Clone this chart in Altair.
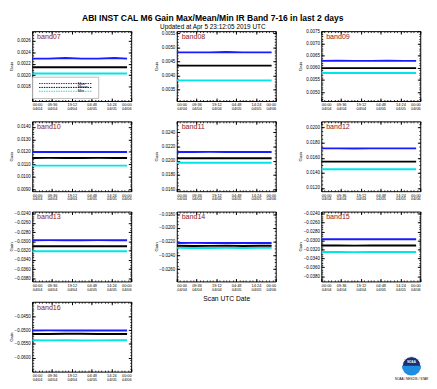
import altair as alt
import numpy as np
import pandas as pd

# ---- data ----
BANDS = ["band07", "band08", "band09", "band10", "band11",
         "band12", "band13", "band14", "band15", "band16"]

# minutes since 04/04 00:00 UTC
SCAN_MIN = [0, 480, 960, 1440, 1920, 2400, 2760]

MAX_SERIES = {
    "band07": [0.00229, 0.00229, 0.00230, 0.00229, 0.00229, 0.00230, 0.00229],
    "band08": [0.00482, 0.00482, 0.00482, 0.00483, 0.00482, 0.00482, 0.00482],
    "band09": [0.00629, 0.00630, 0.00629, 0.00629, 0.00630, 0.00629, 0.00629],
    "band10": [0.01198, 0.01198, 0.01199, 0.01198, 0.01198, 0.01198, 0.01198],
    "band11": [0.02124, 0.02124, 0.02125, 0.02124, 0.02124, 0.02124, 0.02124],
    "band12": [0.01725, 0.01725, 0.01724, 0.01725, 0.01725, 0.01725, 0.01725],
    "band13": [-0.02973, -0.02972, -0.02973, -0.02973, -0.02972, -0.02973, -0.02973],
    "band14": [-0.02220, -0.02218, -0.02220, -0.02221, -0.02219, -0.02220, -0.02220],
    "band15": [-0.02973, -0.02972, -0.02974, -0.02973, -0.02972, -0.02973, -0.02973],
    "band16": [-0.05010, -0.05008, -0.05010, -0.05012, -0.05009, -0.05010, -0.05010],
}
MEAN_SERIES = {
    "band07": [0.00214, 0.00214, 0.00214, 0.00214, 0.00214, 0.00214, 0.00214],
    "band08": [0.00435, 0.00435, 0.00435, 0.00435, 0.00435, 0.00435, 0.00435],
    "band09": [0.00599, 0.00599, 0.00599, 0.00599, 0.00599, 0.00599, 0.00599],
    "band10": [0.01150, 0.01151, 0.01150, 0.01150, 0.01151, 0.01150, 0.01150],
    "band11": [0.02036, 0.02036, 0.02036, 0.02036, 0.02036, 0.02036, 0.02036],
    "band12": [0.01550, 0.01550, 0.01550, 0.01550, 0.01550, 0.01550, 0.01550],
    "band13": [-0.03103, -0.03103, -0.03104, -0.03103, -0.03103, -0.03103, -0.03103],
    "band14": [-0.02260, -0.02262, -0.02261, -0.02258, -0.02262, -0.02260, -0.02260],
    "band15": [-0.03114, -0.03114, -0.03115, -0.03114, -0.03114, -0.03114, -0.03114],
    "band16": [-0.05136, -0.05140, -0.05132, -0.05128, -0.05140, -0.05136, -0.05136],
}
MIN_SERIES = {
    "band07": [0.00203, 0.00203, 0.00203, 0.00203, 0.00203, 0.00203, 0.00203],
    "band08": [0.00383, 0.00383, 0.00383, 0.00383, 0.00383, 0.00383, 0.00383],
    "band09": [0.00579, 0.00579, 0.00579, 0.00579, 0.00579, 0.00579, 0.00579],
    "band10": [0.01089, 0.01089, 0.01089, 0.01089, 0.01089, 0.01089, 0.01089],
    "band11": [0.01973, 0.01973, 0.01973, 0.01973, 0.01973, 0.01973, 0.01973],
    "band12": [0.01450, 0.01450, 0.01450, 0.01450, 0.01450, 0.01450, 0.01450],
    "band13": [-0.03212, -0.03212, -0.03213, -0.03212, -0.03212, -0.03212, -0.03212],
    "band14": [-0.02290, -0.02292, -0.02291, -0.02290, -0.02292, -0.02290, -0.02290],
    "band15": [-0.03260, -0.03260, -0.03261, -0.03260, -0.03260, -0.03260, -0.03260],
    "band16": [-0.05370, -0.05372, -0.05368, -0.05375, -0.05372, -0.05370, -0.05370],
}

Y_DOMAINS = {
    "band07": [0.00155, 0.00277],
    "band08": [0.00310, 0.00557],
    "band09": [0.00463, 0.00752],
    "band10": [0.00883, 0.01445],
    "band11": [0.01570, 0.02556],
    "band12": [0.01158, 0.02083],
    "band13": [-0.03868, -0.02352],
    "band14": [-0.02777, -0.01764],
    "band15": [-0.03919, -0.02351],
    "band16": [-0.06510, -0.03966],
}
Y_TICKS = {
    "band07": [0.0018, 0.0020, 0.0022, 0.0024, 0.0026],
    "band08": [0.0035, 0.0040, 0.0045, 0.0050, 0.0055],
    "band09": [0.0050, 0.0055, 0.0060, 0.0065, 0.0070, 0.0075],
    "band10": [0.0090, 0.0100, 0.0110, 0.0120, 0.0130, 0.0140],
    "band11": [0.0160, 0.0180, 0.0200, 0.0220, 0.0240],
    "band12": [0.0120, 0.0140, 0.0160, 0.0180, 0.0200],
    "band13": [-0.0380, -0.0360, -0.0340, -0.0320, -0.0300, -0.0280, -0.0260, -0.0240],
    "band14": [-0.0260, -0.0240, -0.0220, -0.0200, -0.0180],
    "band15": [-0.0380, -0.0360, -0.0340, -0.0320, -0.0300, -0.0280, -0.0260, -0.0240],
    "band16": [-0.0600, -0.0550, -0.0500, -0.0450],
}
Y_MINOR_STEP = {
    "band07": 0.00005, "band08": 0.0001, "band09": 0.0001, "band10": 0.0002,
    "band11": 0.0005, "band12": 0.0005, "band13": 0.0005, "band14": 0.0005,
    "band15": 0.0005, "band16": 0.001,
}

X_TICKS = [0, 576, 1152, 1728, 2304, 2880]
X_TICK_TIMES = ["00:00", "09:36", "19:12", "04:48", "14:24", "00:00"]
X_TICK_DATES = ["04/04", "04/04", "04/04", "04/05", "04/05", "04/06"]
X_MINOR_STEP = 96

STATS = ["Max", "Mean", "Min"]
STAT_COLORS = ["#1a1aff", "#000000", "#00e5e5"]

TITLE = "ABI INST CAL M6 Gain Max/Mean/Min IR Band 7-16 in last 2 days"
SUBTITLE = "Updated at Apr  5 23:12:05 2019 UTC"
X_TITLE = "Scan UTC Date"

PW, PH = 102, 72
FONT = "Liberation Sans"
MAJ, MIN_T = 3, 1.5

label_expr = ""
for v, t, d in zip(X_TICKS, X_TICK_TIMES, X_TICK_DATES):
    label_expr += f"datum.value=={v}?['{t}','{d}']:"
label_expr += "''"

x_minor = [float(v) for v in np.arange(0, 2880 + 1, X_MINOR_STEP)]


def band_frame(band):
    rows = []
    for stat, series in zip(STATS, [MAX_SERIES, MEAN_SERIES, MIN_SERIES]):
        for m, v in zip(SCAN_MIN, series[band]):
            rows.append({"minute": m, "gain": v, "stat": stat})
    return pd.DataFrame(rows)


def panel(band, show_legend=False, x_title=None):
    df = band_frame(band)
    lo, hi = Y_DOMAINS[band]
    st = Y_MINOR_STEP[band]
    y_minor = [round(k * st, 6) for k in range(int(np.ceil(lo / st)), int(np.floor(hi / st)) + 1)]

    xscale = alt.Scale(domain=[0, 2880], nice=False, zero=False)
    yscale = alt.Scale(domain=Y_DOMAINS[band], nice=False, zero=False)

    if show_legend:
        legend = alt.Legend(
            orient="none", legendX=0, legendY=47, title=None,
            symbolType="M0,0H36", symbolSize=9, symbolStrokeWidth=1,
            symbolDash=[1.5, 1], labelFontSize=4, labelOffset=38,
            labelFont=FONT, rowPadding=0, padding=5,
            strokeColor="#bbbbbb", fillColor="white",
        )
    else:
        legend = None

    color = alt.Color("stat:N", scale=alt.Scale(domain=STATS, range=STAT_COLORS),
                      legend=legend)

    xaxis = alt.Axis(values=X_TICKS, labelExpr=label_expr, labelFontSize=4,
                     labelLineHeight=4, labelPadding=2, ticks=False,
                     labelFont=FONT, domain=False, grid=True,
                     gridColor="black", gridOpacity=1, gridWidth=1,
                     gridDash=[MAJ, PH - 2 * MAJ, MAJ],
                     title=x_title if x_title else None,
                     titleFontSize=6.9, titleFontWeight="normal",
                     titleFont=FONT, titlePadding=5)
    yaxis = alt.Axis(values=Y_TICKS[band], format=".4f", labelFontSize=4.6,
                     labelPadding=2, ticks=False, labelFont=FONT, domain=False,
                     grid=True, gridColor="black", gridOpacity=1, gridWidth=1,
                     gridDash=[MAJ, PW - 2 * MAJ, MAJ],
                     title="Gain", titleFontSize=4.5,
                     titleFontWeight="normal", titleFont=FONT,
                     titleX=-21, titleY=PH / 2, titleAngle=270,
                     titleAlign="center", titleBaseline="middle")

    lines = alt.Chart(df).mark_line(strokeWidth=2, clip=True).encode(
        x=alt.X("minute:Q", scale=xscale, axis=xaxis),
        y=alt.Y("gain:Q", scale=yscale, axis=yaxis),
        color=color,
        order=alt.Order("minute:Q"),
    )

    minor = alt.Chart(df).mark_line(opacity=0).encode(
        x=alt.X("minute:Q", scale=xscale,
                axis=alt.Axis(orient="top", values=x_minor, labels=False,
                              ticks=False, domain=False, grid=True,
                              gridColor="black", gridOpacity=1, gridWidth=0.8,
                              gridDash=[MIN_T, PH - 2 * MIN_T, MIN_T], title=None)),
        y=alt.Y("gain:Q", scale=yscale,
                axis=alt.Axis(orient="right", values=y_minor, labels=False,
                              ticks=False, domain=False, grid=True,
                              gridColor="black", gridOpacity=1, gridWidth=0.8,
                              gridDash=[MIN_T, PW - 2 * MIN_T, MIN_T], title=None)),
        detail="stat:N",
    )

    name = alt.Chart(pd.DataFrame({"band": [band]})).mark_text(
        align="left", baseline="top", fontSize=7.3, font=FONT, color="#8c2020"
    ).encode(x=alt.value(5), y=alt.value(2), text="band:N")

    return alt.layer(minor, lines, name).resolve_axis(
        x="independent", y="independent"
    ).properties(width=PW, height=PH)


logo_df = pd.DataFrame({"name": ["NOAA"], "credit": ["NOAA / NESDIS / STAR"]})
logo_base = alt.Chart(logo_df)
logo = alt.layer(
    logo_base.mark_circle(size=360, color="#1d2f6f", opacity=1,
                          stroke="white", strokeWidth=1).encode(
        x=alt.value(93), y=alt.value(66)),
    logo_base.mark_arc(radius=10, theta=1.5708, theta2=4.7124,
                       color="#1f8de0").encode(x=alt.value(93), y=alt.value(66)),
    logo_base.mark_text(fontSize=3, color="white", fontWeight="bold", font=FONT).encode(
        x=alt.value(93), y=alt.value(62), text="name:N"),
    logo_base.mark_text(fontSize=3.2, color="black", font=FONT).encode(
        x=alt.value(93), y=alt.value(80), text="credit:N"),
).properties(width=PW, height=PH, view=alt.ViewBackground(stroke="transparent"))

p = {b: panel(b, show_legend=(b == "band07"),
              x_title=X_TITLE if b == "band14" else None) for b in BANDS}

ROW_GAP = 21
col1 = alt.vconcat(p["band07"], p["band10"], p["band13"], p["band16"],
                   spacing=ROW_GAP, bounds="flush")
col2 = alt.vconcat(p["band08"], p["band11"], p["band14"],
                   spacing=ROW_GAP, bounds="flush")
col3 = alt.vconcat(p["band09"], p["band12"], p["band15"], logo,
                   spacing=ROW_GAP, bounds="flush")

chart = alt.hconcat(col1, col2, col3, spacing=21).properties(
    title=alt.TitleParams(
        text=TITLE, subtitle=SUBTITLE, fontSize=8.8, fontWeight="bold",
        font=FONT, subtitleFont=FONT, subtitleFontSize=6.6,
        subtitleColor="black", color="black", subtitlePadding=1,
        offset=-2, anchor="middle", dx=-6,
    ),
    padding=0,
).configure_view(stroke="black", strokeWidth=1).configure_axis(
    tickColor="black", labelColor="black", titleColor="black"
)

chart.save("out.html", embed_options={"renderer": "svg", "actions": False})
